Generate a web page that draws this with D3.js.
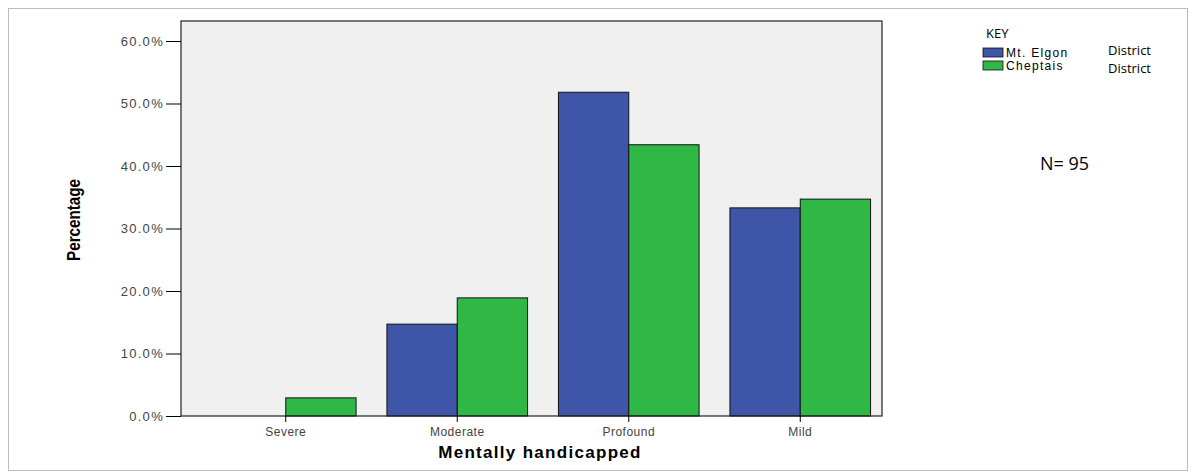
<!DOCTYPE html>
<html><head><meta charset="utf-8">
<script src="https://cdn.jsdelivr.net/npm/d3@7"></script>
<style>body{margin:0;background:#fff}svg{display:block}</style>
</head><body><svg id="c" width="1196" height="473"></svg>
<script>
const categories = ["Severe","Moderate","Profound","Mild"];
const seriesNames = ["Mt. Elgon","Cheptais"];
const mtElgon = [0.0, 14.7, 51.8, 33.3];
const cheptais = [2.9, 18.9, 43.4, 34.7];
const yTicks = [0,10,20,30,40,50,60];
const colors = ["#3f56a8","#2fb846"];

const svg = d3.select("#c");
svg.append("rect").attr("x",8.5).attr("y",8.5).attr("width",1179).attr("height",462)
  .attr("fill","none").attr("stroke","#bbb");
const L=181, R=882, T=21, B=416;
svg.append("rect").attr("x",L).attr("y",T).attr("width",R-L).attr("height",B-T).attr("fill","#f0f0f0");
const x = d3.scaleBand().domain(categories).range([200,886]).paddingInner(0.18).paddingOuter(0.09);
const xs = d3.scaleBand().domain(seriesNames).range([0,x.bandwidth()]);
const y = d3.scaleLinear().domain([0,60]).range([B,41]);
const series=[mtElgon,cheptais];
series.forEach((vals,si)=>{
  svg.append("g").selectAll("rect").data(categories).join("rect")
    .attr("x",d=>x(d)+xs(seriesNames[si])).attr("width",xs.bandwidth())
    .attr("y",(d,i)=>y(vals[i])).attr("height",(d,i)=>B-y(vals[i]))
    .attr("fill",colors[si]).attr("stroke","#111").attr("stroke-width",1);
});
svg.append("rect").attr("x",L).attr("y",T).attr("width",R-L).attr("height",B-T).attr("fill","none").attr("stroke","#222").attr("stroke-width",1.2);
const ya = svg.append("g").attr("transform",`translate(${L},0)`)
  .call(d3.axisLeft(y).tickValues(yTicks).tickSize(15).tickFormat(d=>d.toFixed(1)+"%"));
ya.select(".domain").remove();
ya.selectAll("text").attr("font-family","Liberation Sans, Arial").attr("font-size",13).attr("fill","#444").attr("letter-spacing","1.3px").attr("dx","1px");
const xa = svg.append("g").attr("transform",`translate(0,${B})`)
  .call(d3.axisBottom(x).tickSize(6));
xa.select(".domain").remove();
xa.selectAll("text").attr("font-family","Liberation Sans, Arial").attr("font-size",12).attr("fill","#444").attr("dy","0.9em").attr("letter-spacing","0.5px");
svg.append("text").attr("x",540).attr("y",458).attr("text-anchor","middle")
  .attr("font-family","Liberation Sans, Arial").attr("font-weight","bold").attr("font-size",17).attr("letter-spacing","1.3px").text("Mentally handicapped");
svg.append("text").attr("transform","translate(80,220) rotate(-90) scale(0.8,1)").attr("text-anchor","middle")
  .attr("font-family","Liberation Sans, Arial").attr("font-weight","bold").attr("font-size",19).text("Percentage");
svg.append("text").attr("x",986).attr("y",38).attr("font-family","Open Sans").attr("font-size",13).text("KEY");
seriesNames.forEach((n,i)=>{
  const yy=48+i*13;
  svg.append("rect").attr("x",983).attr("y",yy).attr("width",20).attr("height",9).attr("fill",colors[i]).attr("stroke","#111").attr("stroke-width",0.8);
  svg.append("text").attr("x",1006).attr("y",yy+9).attr("font-family","Liberation Sans, Arial").attr("font-size",12).attr("letter-spacing","1.3px").text(n);
  svg.append("text").attr("x",1108).attr("y",yy+7+i*5).attr("font-family","Open Sans").attr("font-size",13).text("District");
});
svg.append("text").attr("x",1040).attr("y",170).attr("font-family","Open Sans").attr("font-size",18).text("N= 95");
</script></body></html>
